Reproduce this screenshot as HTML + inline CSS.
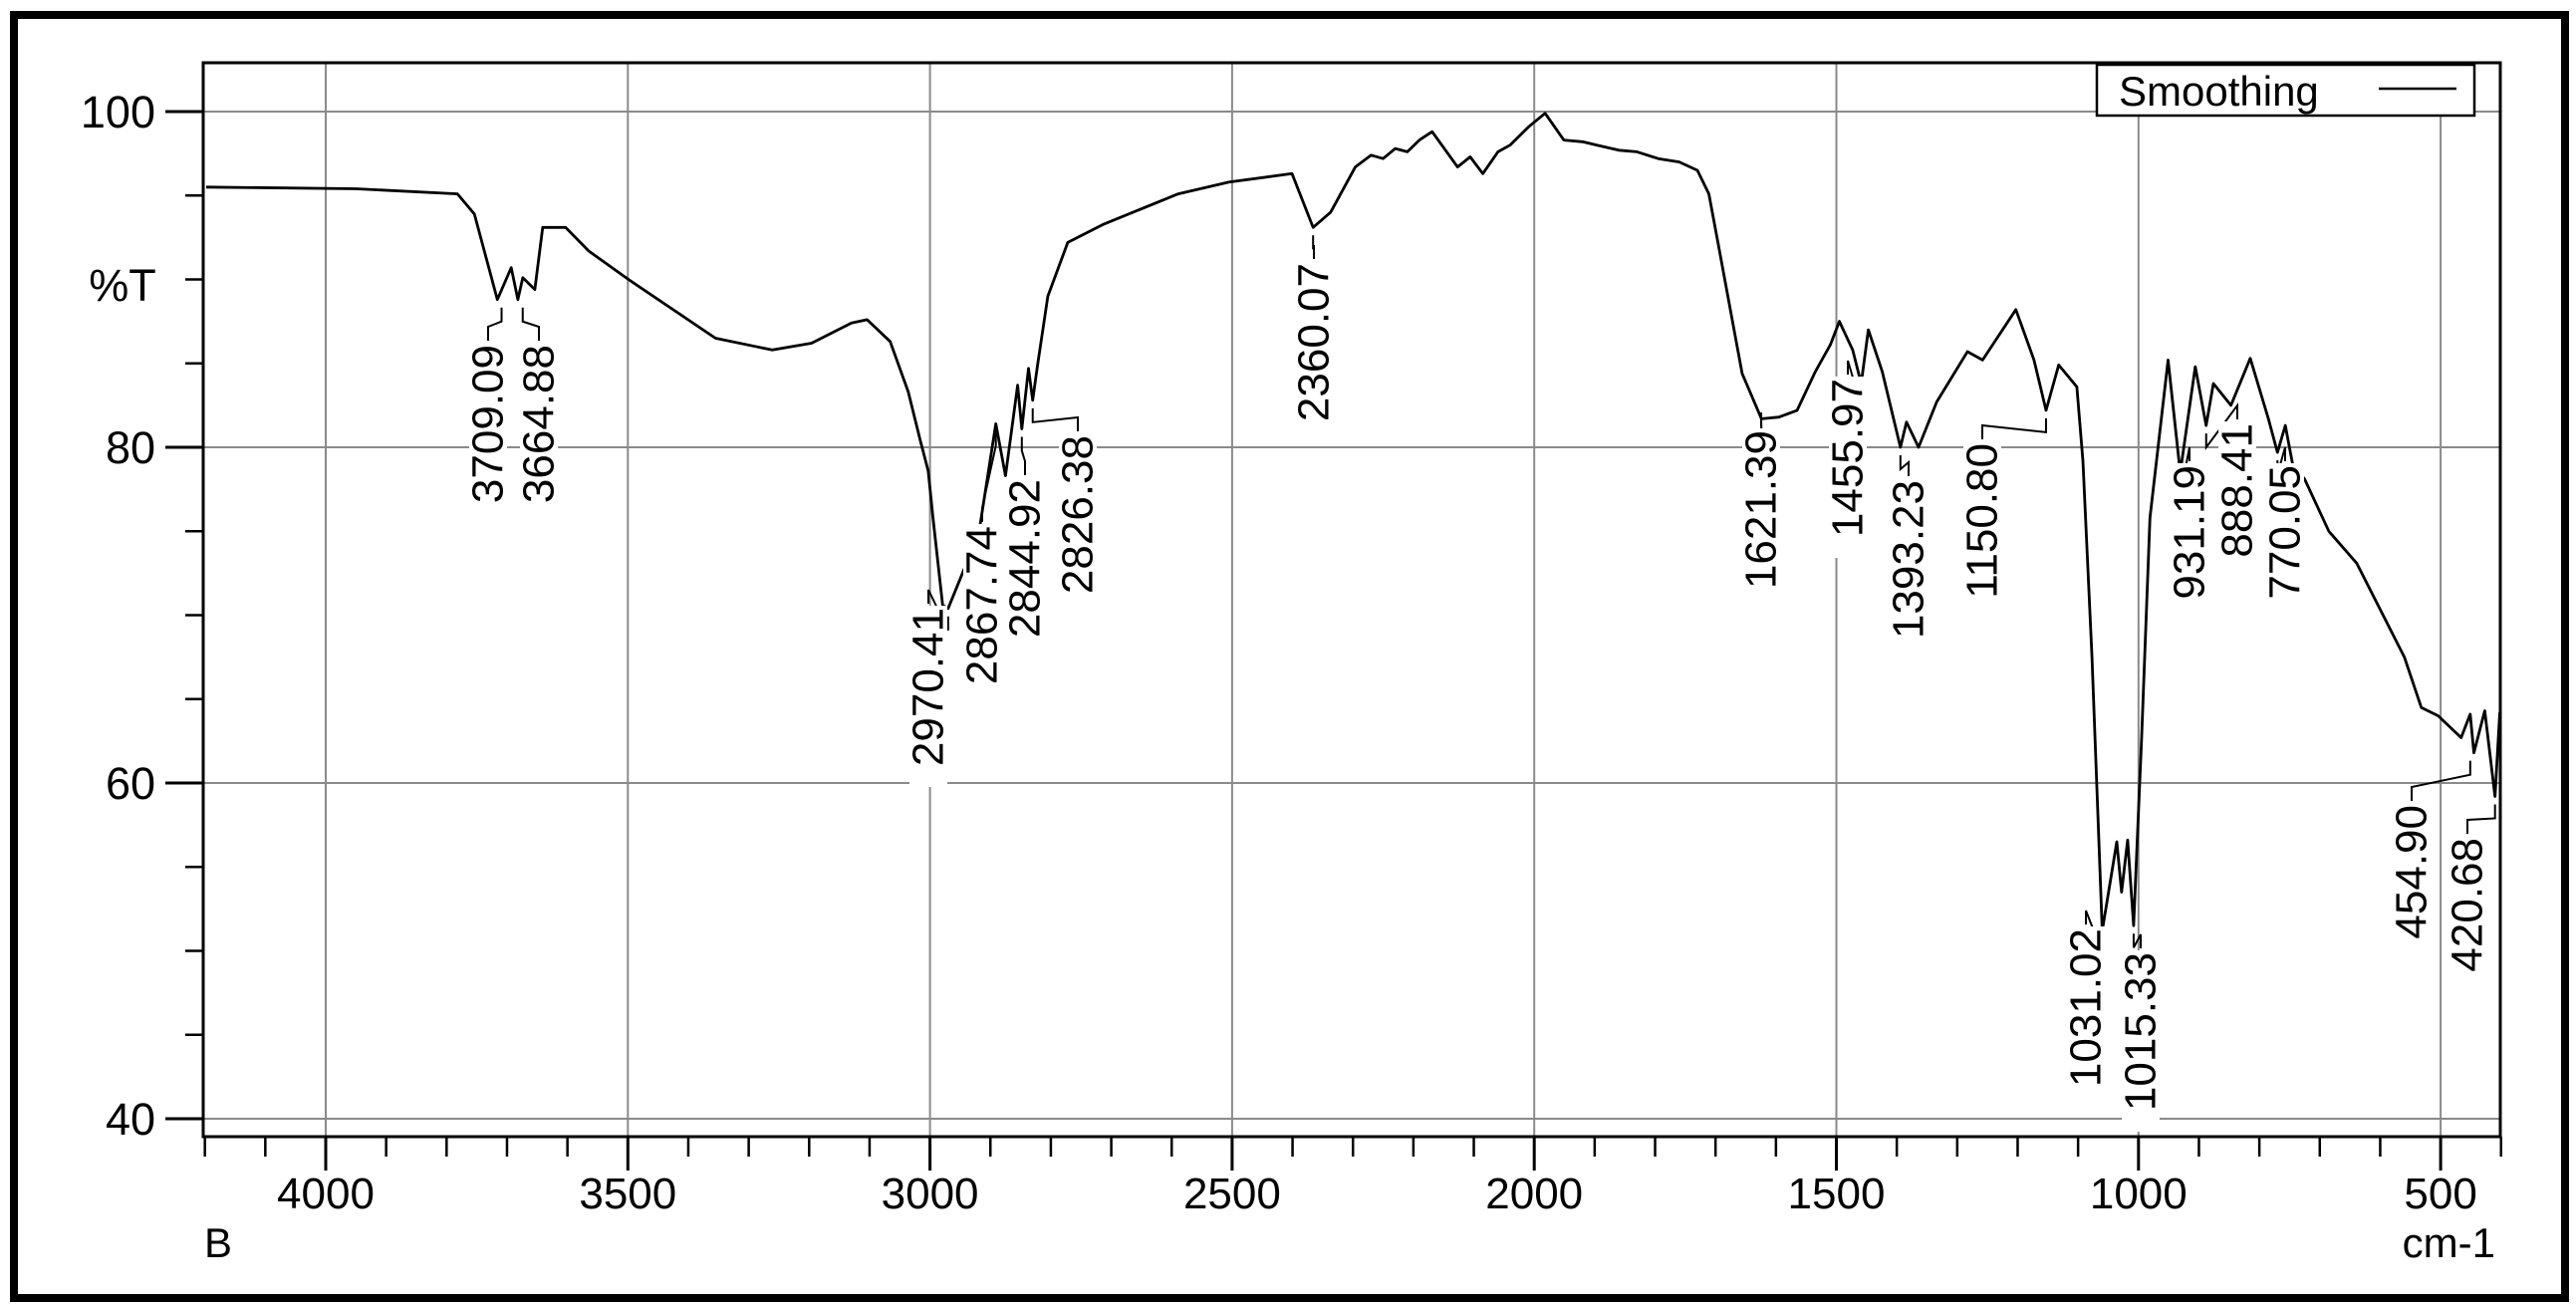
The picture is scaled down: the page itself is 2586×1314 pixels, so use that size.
<!DOCTYPE html>
<html><head><meta charset="utf-8"><style>
html,body{margin:0;padding:0;background:#fff;}
svg{display:block;font-family:"Liberation Sans",Arial,sans-serif;}
</style></head><body>
<svg id="chart" width="2586" height="1314" viewBox="0 0 2586 1314">
<rect x="14" y="15" width="2561" height="1288" fill="#fff" stroke="#000" stroke-width="8"/>
<g id="grid"></g>
<g id="axes"></g>
<g id="series"></g>
<g id="ann"></g>
<text x="123" y="302" font-size="45" text-anchor="middle">%T</text>
<text x="205" y="1262" font-size="42">B</text>
<text x="2505" y="1262" font-size="42" text-anchor="end">cm-1</text>
<g>
<rect x="2105" y="65" width="379" height="51" fill="#fff" stroke="#000" stroke-width="2.5"/>
<text x="2127" y="106" font-size="42">Smoothing</text>
<line x1="2388" y1="89" x2="2466" y2="89" stroke="#000" stroke-width="2.5"/>
</g>
</svg>
<script>
const wavenumbers=[4198,3950,3782,3754,3716,3693,3682,3674,3654,3641,3603,3565,3499,3355,3261,3196,3130,3104,3066,3036,3016,3003,2995,2979,2970,2919,2891,2875,2855,2848,2837,2830,2822,2805,2772,2712,2589,2505,2401,2366,2337,2296,2270,2250,2230,2210,2190,2169,2127,2106,2085,2060,2040,2009,1982,1951,1920,1896,1860,1830,1795,1760,1730,1711,1696,1656,1624,1595,1565,1535,1510,1495,1473,1459,1447,1424,1394,1384,1364,1334,1283,1258,1203,1173,1153,1132,1102,1092,1077,1060,1036,1028,1018,1008,995,981,951,931,906,888,876,847,815,785,770,757,745,725,685,639,560,532,504,466,451,445,427,410,402];
const transmittance=[95.5,95.4,95.1,93.9,88.8,90.7,88.8,90.1,89.4,93.1,93.1,91.7,90.0,86.5,85.8,86.2,87.4,87.6,86.3,83.3,80.4,78.6,75.8,70.6,70.4,74.9,81.4,78.3,83.7,81.1,84.7,82.8,84.9,89.0,92.2,93.3,95.1,95.8,96.3,93.1,94.0,96.7,97.4,97.2,97.8,97.6,98.3,98.8,96.7,97.3,96.3,97.6,98.0,99.1,99.9,98.3,98.2,98.0,97.7,97.6,97.2,97.0,96.5,95.1,92.2,84.4,81.7,81.8,82.2,84.5,86.1,87.5,85.8,83.8,87.0,84.5,80.0,81.5,80.0,82.7,85.7,85.2,88.2,85.2,82.2,84.9,83.6,79.2,67.5,51.2,56.5,53.5,56.6,51.5,62.5,75.8,85.2,78.5,84.8,81.3,83.8,82.5,85.3,81.7,79.7,81.3,79.0,78.1,75.0,73.1,67.5,64.5,64.0,62.7,64.1,61.8,64.3,59.2,64.2];
const xTicks=[4000,3500,3000,2500,2000,1500,1000,500];
const yTicks=[100,80,60,40];
const peakLabels=["3709.09","3664.88","2970.41","2867.74","2844.92","2826.38","2360.07","1621.39","1455.97","1393.23","1150.80","1031.02","1015.33","931.19","888.41","770.05","454.90","420.68"];
const peakWn=[3709,3674,2970,2891,2848,2830,2366,1624,1459,1394,1153,1060,1008,931,888,770,451,410];
const peakT=[88.8,88.8,70.4,81.4,81.1,82.8,93.1,81.7,83.8,80.0,82.2,51.2,51.5,78.5,81.3,79.7,61.8,59.2];
const labelX=[490,541,932,986,1029,1082,1319,1768,1855,1916,1990,2094,2149,2198,2246,2294,2421,2477];
const labelTop=[346,346,610,528,481,437,264,432,380,482,445,932,956,467,425,467,808,841];

const NS="http://www.w3.org/2000/svg";
const L=204,R=2510,T0=63,B=1141;
function xs(w){return 327+(4000-w)*0.6066;}
function ys(t){return 112+(100-t)*16.85;}
function mk(tag,attrs,parent){const e=document.createElementNS(NS,tag);for(const k in attrs)e.setAttribute(k,attrs[k]);parent.appendChild(e);return e;}
const grid=document.getElementById('grid'),axes=document.getElementById('axes'),series=document.getElementById('series'),ann=document.getElementById('ann');

xTicks.forEach(v=>{
 const g=mk('line',{x1:xs(v),x2:xs(v),y1:T0,y2:B,stroke:'#8a8a8a','stroke-width':2},grid);
 
 
 const t=mk('line',{x1:xs(v),x2:xs(v),y1:B,y2:B+34,stroke:'#000','stroke-width':3},axes);
 
 
 const lb=mk('text',{x:xs(v),y:1213,'font-size':44,'text-anchor':'middle'},axes);
 lb.textContent=v;
 
 
});
for(let w=4200;w>=400;w-=100){
 if(w%500===0)continue;
 const t=mk('line',{x1:xs(w),x2:xs(w),y1:B,y2:B+20,stroke:'#000','stroke-width':2.5},axes);
 
 
}
yTicks.forEach(v=>{
 const g=mk('line',{x1:L,x2:R,y1:ys(v),y2:ys(v),stroke:'#8a8a8a','stroke-width':2},grid);
 
 
 const t=mk('line',{x1:166,x2:L,y1:ys(v),y2:ys(v),stroke:'#000','stroke-width':3},axes);
 
 
 const lb=mk('text',{x:156,y:ys(v)+16,'font-size':45,'text-anchor':'end'},axes);
 lb.textContent=v;
 
 
});
for(let v=45;v<100;v+=5){
 if(v%20===0)continue;
 const t=mk('line',{x1:186,x2:L,y1:ys(v),y2:ys(v),stroke:'#000','stroke-width':2.5},axes);
 
 
}
const frame=mk('rect',{x:L,y:T0,width:R-L,height:B-T0,fill:'none',stroke:'#000','stroke-width':3},axes);



let d='';
wavenumbers.forEach((w,i)=>{d+=(i?'L':'M')+xs(w).toFixed(1)+','+ys(transmittance[i]).toFixed(1);});
const p=mk('path',{d:d,fill:'none',stroke:'#000','stroke-width':2.8,'stroke-linejoin':'round'},series);



peakLabels.forEach((s,i)=>{
 const px=xs(peakWn[i]),py=ys(peakT[i]);
 const lx=labelX[i],ly=labelTop[i];
 const ld=mk('polyline',{points:`${px},${py+8} ${px},${py+22} ${lx},${ly-18} ${lx},${ly-4}`,fill:'none',stroke:'#000','stroke-width':2},ann);
 
 
 const w=178;
 const bg=mk('rect',{x:lx-19,y:ly-2,width:38,height:w+4,fill:'#fff'},ann);
 
 
 const t=mk('text',{x:lx,y:ly,'font-size':44,'text-anchor':'end','dominant-baseline':'central',transform:`rotate(-90 ${lx} ${ly})`},ann);
 t.textContent=s;
 
 
});
</script>
</body></html>
